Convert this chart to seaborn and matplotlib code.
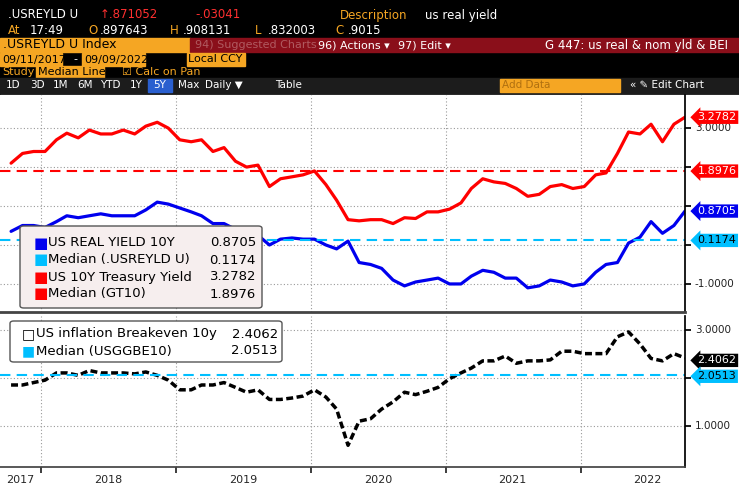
import matplotlib
matplotlib.use("Agg")
import matplotlib.pyplot as plt
import seaborn as sns
import pandas as pd
import numpy as np
from matplotlib.patches import Rectangle, FancyBboxPatch

sns.set_theme(style="white")
plt.rcParams['font.family'] = ['DejaVu Sans']

dates = pd.date_range("2017-09-11", periods=61, freq="MS") + pd.Timedelta(days=10)
treasury10y = [2.10, 2.35, 2.40, 2.40, 2.70, 2.87, 2.75, 2.95, 2.85, 2.85, 2.95, 2.85,
               3.05, 3.15, 3.00, 2.70, 2.65, 2.70, 2.40, 2.50, 2.15, 2.00, 2.05, 1.50,
               1.70, 1.75, 1.80, 1.90, 1.55, 1.15, 0.65, 0.62, 0.65, 0.65, 0.55, 0.70,
               0.68, 0.85, 0.85, 0.92, 1.08, 1.45, 1.70, 1.62, 1.58, 1.45, 1.25, 1.30,
               1.50, 1.55, 1.45, 1.50, 1.80, 1.85, 2.35, 2.90, 2.85, 3.10, 2.65, 3.10, 3.28]
real10y = [0.35, 0.50, 0.50, 0.45, 0.60, 0.75, 0.70, 0.75, 0.80, 0.75, 0.75, 0.75,
           0.90, 1.10, 1.05, 0.95, 0.85, 0.75, 0.55, 0.55, 0.40, 0.30, 0.25, 0.00,
           0.15, 0.18, 0.15, 0.15, 0.00, -0.10, 0.10, -0.45, -0.50, -0.60, -0.90, -1.05,
           -0.95, -0.90, -0.85, -1.00, -1.00, -0.80, -0.65, -0.70, -0.85, -0.85, -1.10, -1.05,
           -0.90, -0.95, -1.05, -1.00, -0.70, -0.50, -0.45, 0.05, 0.20, 0.60, 0.30, 0.50, 0.87]
breakeven10y = [1.85, 1.85, 1.90, 1.95, 2.10, 2.10, 2.05, 2.15, 2.10, 2.10, 2.10, 2.08,
                2.12, 2.05, 1.95, 1.75, 1.75, 1.85, 1.85, 1.90, 1.80, 1.70, 1.75, 1.55,
                1.55, 1.58, 1.62, 1.75, 1.60, 1.35, 0.60, 1.10, 1.15, 1.35, 1.50, 1.70,
                1.65, 1.72, 1.80, 1.98, 2.10, 2.20, 2.35, 2.35, 2.45, 2.30, 2.35, 2.35,
                2.37, 2.55, 2.55, 2.50, 2.50, 2.50, 2.85, 2.95, 2.70, 2.40, 2.35, 2.50, 2.41]
median_real, median_tsy, median_bei = 0.1174, 1.8976, 2.0513
year_labels = ["2017", "2018", "2019", "2020", "2021", "2022"]

W, H = 739, 487
fig = plt.figure(figsize=(W/100, H/100), dpi=100, facecolor="black")

def fx(x): return x / W
def fy(y): return 1 - y / H

def txt(x, y, s, c="white", size=8.5, **kw):
    fig.text(fx(x), fy(y), s, color=c, fontsize=size, va="center", **kw)

def rect(x0, y0, x1, y1, c, z=-1):
    fig.patches.append(Rectangle((fx(x0), fy(y1)), fx(x1)-fx(x0), fy(y0)-fy(y1),
                                 transform=fig.transFigure, color=c, zorder=z))

ORG = "#f5a623"
txt(8, 15, ".USREYLD U"); txt(100, 15, "↑.871052", c="#ff3030"); txt(195, 15, "-.03041", c="#ff3030")
txt(340, 15, "Description", c=ORG); txt(425, 15, "us real yield")
for x, s, c in [(8, "At", ORG), (30, "17:49", "white"), (88, "O", ORG), (100, ".897643", "white"),
                (170, "H", ORG), (183, ".908131", "white"), (255, "L", ORG), (268, ".832003", "white"),
                (335, "C", ORG), (348, ".9015", "white")]:
    txt(x, 30, s, c=c)
rect(0, 38, 190, 52, ORG); rect(190, 38, 739, 52, "#8a0f1a")
txt(3, 45, ".USREYLD U Index", c="black", size=9)
txt(195, 45, "94) Suggested Charts", c="#b05a60", size=8)
txt(318, 45, "96) Actions ▾", size=8); txt(398, 45, "97) Edit ▾", size=8)
txt(545, 45, "G 447: us real & nom yld & BEI", size=8.5)
rect(0, 53, 62, 66, ORG); rect(82, 53, 145, 66, ORG); rect(187, 53, 245, 66, ORG)
txt(2, 59.5, "09/11/2017", c="black", size=8); txt(84, 59.5, "09/09/2022", c="black", size=8)
txt(188, 59.5, "Local CCY", c="black", size=8); txt(73, 59.5, "-", size=8)
txt(2, 72, "Study", c=ORG, size=8); rect(36, 66, 104, 78, ORG); txt(38, 72, "Median Line", c="black", size=8)
txt(122, 72, "☑ Calc on Pan", c=ORG, size=8)
rect(0, 78, 739, 93, "#1c1c1c"); rect(148, 79, 172, 92, "#2a5fcf"); rect(500, 79, 620, 92, ORG)
for x, s in [(6, "1D"), (30, "3D"), (53, "1M"), (77, "6M"), (100, "YTD"), (130, "1Y"), (153, "5Y"),
             (178, "Max"), (205, "Daily ▼"), (275, "Table"), (630, "« ✎ Edit Chart")]:
    txt(x, 85.5, s, size=7.5)
txt(502, 85.5, "Add Data", c="#b07010", size=7.5)
rect(0, 95, 739, 487, "white", z=-2)

xmin, xmax = pd.Timestamp("2017-09-11"), pd.Timestamp("2022-10-11")
ax1 = fig.add_axes([0, fy(312), fx(685), fy(95)-fy(312)])
ax2 = fig.add_axes([0, fy(467), fx(685), fy(316)-fy(467)])
df = pd.DataFrame({"date": dates, "tsy": treasury10y, "real": real10y, "bei": breakeven10y})
sns.lineplot(data=df, x="date", y="tsy", ax=ax1, color="#ff0000", lw=2.3)
sns.lineplot(data=df, x="date", y="real", ax=ax1, color="#0000ee", lw=2.3)
ax1.axhline(median_tsy, color="#ff0000", ls=(0, (5, 3)), lw=1.5)
ax1.axhline(median_real, color="#00bfff", ls=(0, (5, 3)), lw=1.5)
sns.lineplot(data=df, x="date", y="bei", ax=ax2, color="black", lw=2.5, ls=(0, (2, 1)))
ax2.axhline(median_bei, color="#00bfff", ls=(0, (5, 3)), lw=1.5)
ax1.set_ylim(-1.72, 3.85); ax2.set_ylim(0.15, 3.28)

years = [pd.Timestamp(f"{y}-01-01") for y in range(2018, 2023)]
mids = [pd.Timestamp("2017-11-05")] + [pd.Timestamp(f"{y}-07-01") for y in range(2018, 2023)]
for ax, yt in [(ax1, [-1, 0, 1, 2, 3]), (ax2, [1, 2, 3])]:
    ax.set_xlim(xmin, xmax)
    ax.set_facecolor("white")
    ax.set_xlabel(""); ax.set_ylabel("")
    ax.yaxis.tick_right()
    ax.set_yticks(yt)
    ax.set_yticklabels([])
    ax.set_xticks(years)
    ax.set_xticklabels([])
    ax.grid(True, color="#999999", ls=(0, (1, 2)), lw=0.8)
    ax.tick_params(axis="y", right=True, length=4, color="black")
    for s in ["top", "left"]:
        ax.spines[s].set_visible(False)
    ax.spines["right"].set_color("black"); ax.spines["bottom"].set_color("#444444")
ax1.spines["bottom"].set_linewidth(2)
ax2.set_xticks(mids, minor=True)
ax2.set_xticklabels(year_labels, minor=True, fontsize=8)
ax2.tick_params(axis="x", which="minor", length=0, pad=6)
ax2.tick_params(axis="x", which="major", length=4, bottom=True)
for ax, v in [(ax1, 3), (ax1, -1), (ax2, 3), (ax2, 1)]:
    ax.annotate(f"{v:.4f}", xy=(1, v), xycoords=("axes fraction", "data"), xytext=(7, 0),
                textcoords="offset points", va="center", fontsize=7.5, color="#222222")

def tag(ax, y, s, fc, tc="white"):
    ax.annotate(s, xy=(1, y), xycoords=("axes fraction", "data"), xytext=(9, 0),
                textcoords="offset points", va="center", fontsize=8, color=tc,
                bbox=dict(boxstyle="larrow,pad=0.15", fc=fc, ec="none"))
tag(ax1, 3.2782, "3.2782", "#ff0000"); tag(ax1, 1.8976, "1.8976", "#ff0000")
tag(ax1, 0.8705, "0.8705", "#0000ee"); tag(ax1, 0.1174, "0.1174", "#00bfff", "black")
tag(ax2, 2.36, "2.4062", "black"); tag(ax2, 2.03, "2.0513", "#00bfff", "black")

def legend_box(x0, y0, x1, y1, fc):
    fig.patches.append(FancyBboxPatch((fx(x0), fy(y1)), fx(x1)-fx(x0), fy(y0)-fy(y1),
                       boxstyle="round,pad=0,rounding_size=0.005", transform=fig.transFigure,
                       fc=fc, ec="#555555", lw=1, zorder=5))
legend_box(20, 226, 262, 308, "#f6eeee")
rows = [("US REAL YIELD 10Y", "0.8705", "#0000ee"), ("Median (.USREYLD U)", "0.1174", "#00bfff"),
        ("US 10Y Treasury Yield", "3.2782", "#ff0000"), ("Median (GT10)", "1.8976", "#ff0000")]
for i, (n, v, c) in enumerate(rows):
    y = 243 + i * 17
    fig.text(fx(34), fy(y), "■", color=c, fontsize=11, va="center", zorder=6)
    fig.text(fx(48), fy(y), n, color="black", fontsize=9.5, va="center", zorder=6)
    fig.text(fx(256), fy(y), v, color="black", fontsize=9.5, va="center", ha="right", zorder=6)
legend_box(10, 321, 282, 362, "white")
for i, (n, v, c) in enumerate([("US inflation Breakeven 10y", "2.4062", "black"),
                                ("Median (USGGBE10)", "2.0513", "#00bfff")]):
    y = 334 + i * 17
    fig.text(fx(22), fy(y), "□" if i == 0 else "■", color=c, fontsize=10, va="center", zorder=6)
    fig.text(fx(36), fy(y), n, color="black", fontsize=9.5, va="center", zorder=6)
    fig.text(fx(278), fy(y), v, color="black", fontsize=9.5, va="center", ha="right", zorder=6)

fig.savefig("out.png", dpi=100, facecolor="black")
